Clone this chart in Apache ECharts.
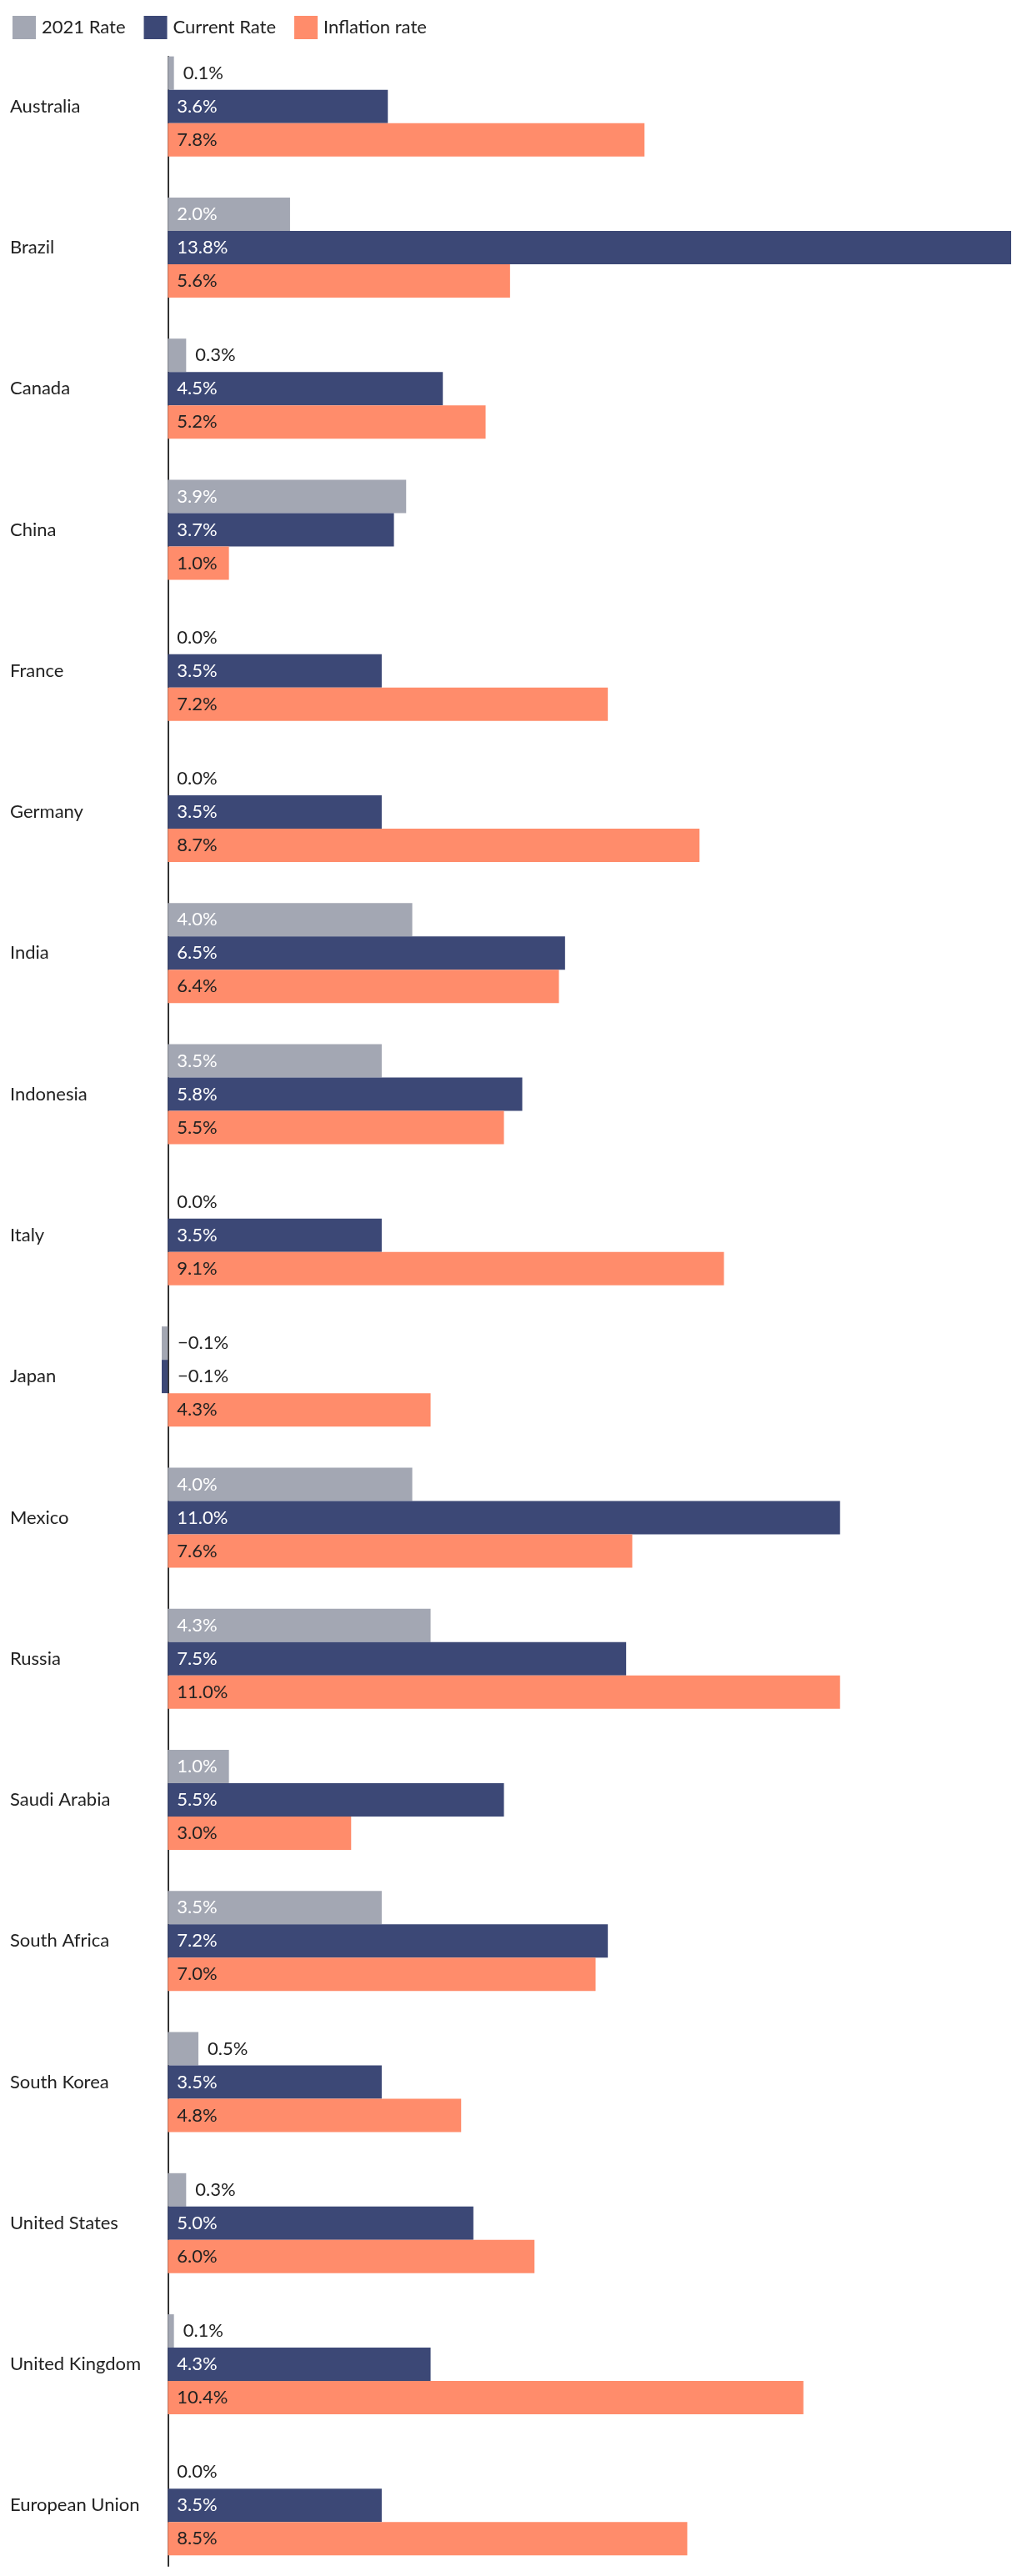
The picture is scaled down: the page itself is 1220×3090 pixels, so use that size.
<!DOCTYPE html>
<html>
<head>
<meta charset="utf-8">
<script src="https://cdn.jsdelivr.net/npm/echarts@6/dist/echarts.min.js"></script>
<style>
html,body{margin:0;padding:0;background:#fff;}
#chart{width:1220px;height:3090px;}
</style>
</head>
<body>
<div id="chart"></div>
<script>
const categories = ["Australia","Brazil","Canada","China","France","Germany","India","Indonesia","Italy","Japan","Mexico","Russia","Saudi Arabia","South Africa","South Korea","United States","United Kingdom","European Union"];
const rate2021 = [0.1, 2.0, 0.3, 3.9, 0.0, 0.0, 4.0, 3.5, 0.0, -0.1, 4.0, 4.3, 1.0, 3.5, 0.5, 0.3, 0.1, 0.0];
const currentRate = [3.6, 13.8, 4.5, 3.7, 3.5, 3.5, 6.5, 5.8, 3.5, -0.1, 11.0, 7.5, 5.5, 7.2, 3.5, 5.0, 4.3, 3.5];
const inflationRate = [7.8, 5.6, 5.2, 1.0, 7.2, 8.7, 6.4, 5.5, 9.1, 4.3, 7.6, 11.0, 3.0, 7.0, 4.8, 6.0, 10.4, 8.5];
const seriesNames = ["2021 Rate", "Current Rate", "Inflation rate"];

const FONT = 'Lato, "Source Sans Pro", sans-serif';
const colors = ['#a3a7b3', '#3c4876', '#ff8c6b'];
const insideColors = ['#ffffff', '#ffffff', '#222222'];

function fmt(v) {
  return (v < 0 ? '\u2212' : '') + Math.abs(v).toFixed(1) + '%';
}
function buildData(arr, idx) {
  return arr.map(v => {
    if (Math.abs(v) < 0.8) {
      return { value: v, label: { position: v < 0 ? 'insideLeft' : 'right', distance: v < 0 ? 19 : 11, color: '#222222' } };
    }
    return { value: v };
  });
}
function makeSeries(name, arr, idx) {
  return {
    name: name,
    type: 'bar',
    xAxisIndex: 0,
    yAxisIndex: 0,
    barWidth: 40,
    barGap: '0%',
    itemStyle: { color: colors[idx] },
    label: {
      show: true,
      position: 'insideLeft',
      distance: 11,
      fontFamily: FONT,
      fontSize: 22,
      color: insideColors[idx],
      formatter: p => fmt(p.value)
    },
    emphasis: { disabled: true },
    data: buildData(arr, idx)
  };
}

const chart = echarts.init(document.getElementById('chart'), null, { renderer: 'canvas' });
chart.setOption({
  animation: false,
  backgroundColor: '#ffffff',
  legend: {
    left: 10,
    top: 14,
    itemWidth: 28,
    itemHeight: 28,
    itemGap: 22,
    icon: 'rect',
    textStyle: { fontFamily: FONT, fontSize: 22, color: '#222222', padding: [0, 0, 0, 2] },
    data: seriesNames
  },
  grid: [
    { left: 194, right: 7, top: 43, height: 3060, containLabel: false },
    { left: 194, right: 7, top: 68, height: 3010, containLabel: false }
  ],
  xAxis: [
    { type: 'value', gridIndex: 0, min: -0.1, max: 13.8, show: false },
    { type: 'value', gridIndex: 1, min: -0.1, max: 13.8, show: false }
  ],
  yAxis: [
    {
      type: 'category',
      gridIndex: 0,
      inverse: true,
      data: categories,
      axisLine: { show: false, onZero: false },
      axisTick: { show: false },
      splitLine: { show: false },
      axisLabel: {
        align: 'left',
        margin: 182,
        fontFamily: FONT,
        fontSize: 22,
        color: '#222222'
      }
    },
    {
      type: 'value',
      gridIndex: 1,
      axisLine: { show: true, onZero: true, lineStyle: { color: '#333333', width: 2 } },
      axisTick: { show: false },
      axisLabel: { show: false },
      splitLine: { show: false }
    }
  ],
  series: [
    makeSeries(seriesNames[0], rate2021, 0),
    makeSeries(seriesNames[1], currentRate, 1),
    makeSeries(seriesNames[2], inflationRate, 2)
  ]
});
</script>
</body>
</html>
